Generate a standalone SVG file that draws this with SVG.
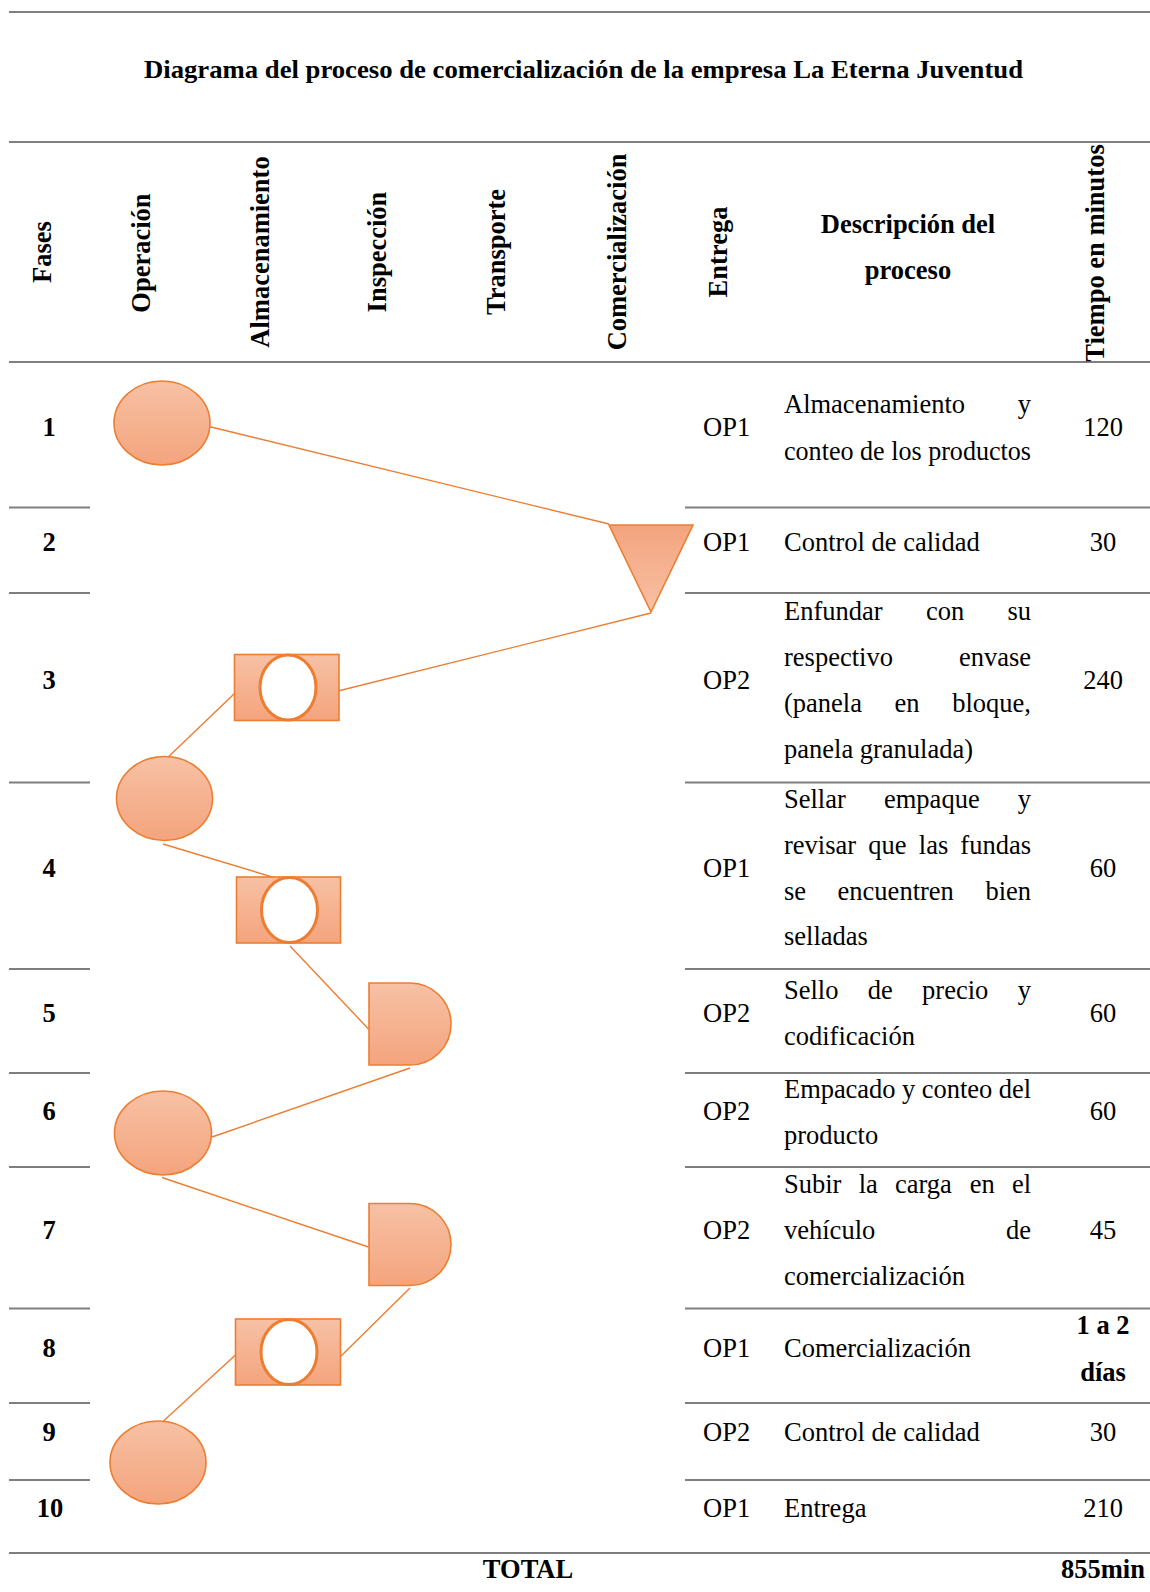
<svg xmlns="http://www.w3.org/2000/svg" width="1150" height="1592" viewBox="0 0 1150 1592">
  <style>
    .rule { stroke: #7f7f7f; stroke-width: 2.2; fill: none; }
    .title { font-family: "Liberation Serif", "Times New Roman", serif; font-weight: bold; font-size: 26px; fill: #000; }
    .hdr { font-family: "Liberation Serif", "Times New Roman", serif; font-weight: bold; font-size: 26.5px; fill: #000; text-anchor: middle; }
    .num { font-family: "Liberation Serif", "Times New Roman", serif; font-weight: bold; font-size: 26.5px; fill: #000; text-anchor: middle; }
    .txt { font-family: "Liberation Serif", "Times New Roman", serif; font-size: 26.5px; fill: #000; }
    .end { text-anchor: end; }
    .mid { text-anchor: middle; }
    .shape { fill: url(#peach); stroke: #ed7d31; stroke-width: 1.6; }
    .tri { fill: url(#peachUp); stroke: #ed7d31; stroke-width: 1.6; }
    .hole { fill: #fff; stroke: #ed7d31; stroke-width: 3; }
    .link { stroke: #ed7d31; stroke-width: 1.4; fill: none; }
  </style>
  <defs>
    <linearGradient id="peach" x1="0" y1="0" x2="0" y2="1">
      <stop offset="0" stop-color="#f7c1a5"/>
      <stop offset="1" stop-color="#f4a47d"/>
    </linearGradient>
    <linearGradient id="peachUp" x1="0" y1="1" x2="0" y2="0">
      <stop offset="0" stop-color="#f7c1a5"/>
      <stop offset="1" stop-color="#f4a47d"/>
    </linearGradient>
  </defs>

  <rect width="1150" height="1592" fill="#fff"/>

  <!-- table rules -->
  <g id="rules">
    <line class="rule" x1="9" y1="12" x2="1150" y2="12"/>
    <line class="rule" x1="9" y1="142" x2="1150" y2="142"/>
    <line class="rule" x1="9" y1="362" x2="1150" y2="362"/>
    <path class="rule" d="M9 507.5H90M685 507.5H1150 M9 593H90M685 593H1150 M9 782.5H90M685 782.5H1150 M9 969H90M685 969H1150 M9 1073H90M685 1073H1150 M9 1167H90M685 1167H1150 M9 1308.5H90M685 1308.5H1150 M9 1403H90M685 1403H1150 M9 1480H90M685 1480H1150"/>
    <line class="rule" x1="9" y1="1553" x2="1150" y2="1553"/>
  </g>

  <!-- title -->
  <text class="title" x="583.5" y="78" text-anchor="middle" textLength="879" lengthAdjust="spacingAndGlyphs">Diagrama del proceso de comercialización de la empresa La Eterna Juventud</text>

  <!-- column headers -->
  <g id="headers">
    <text class="hdr" transform="translate(51 252) rotate(-90)">Fases</text>
    <text class="hdr" transform="translate(150 253) rotate(-90)">Operación</text>
    <text class="hdr" transform="translate(269 252) rotate(-90)">Almacenamiento</text>
    <text class="hdr" transform="translate(386 252) rotate(-90)">Inspección</text>
    <text class="hdr" transform="translate(505 252) rotate(-90)">Transporte</text>
    <text class="hdr" transform="translate(626 252) rotate(-90)">Comercialización</text>
    <text class="hdr" transform="translate(727 252) rotate(-90)">Entrega</text>
    <text class="hdr" transform="translate(1104 253) rotate(-90)">Tiempo en minutos</text>
    <text class="hdr" x="908" y="233">Descripción del</text>
    <text class="hdr" x="908" y="279">proceso</text>
  </g>

  <!-- phase numbers -->
  <g id="phases">
    <text class="num" x="49" y="436">1</text>
    <text class="num" x="49" y="551">2</text>
    <text class="num" x="49" y="688.5">3</text>
    <text class="num" x="49" y="877">4</text>
    <text class="num" x="49" y="1022">5</text>
    <text class="num" x="49" y="1120">6</text>
    <text class="num" x="49" y="1239">7</text>
    <text class="num" x="49" y="1357">8</text>
    <text class="num" x="49" y="1441">9</text>
    <text class="num" x="50" y="1517">10</text>
  </g>

  <!-- delivery codes -->
  <g id="entrega">
    <text class="txt" x="703" y="436">OP1</text>
    <text class="txt" x="703" y="551">OP1</text>
    <text class="txt" x="703" y="688.5">OP2</text>
    <text class="txt" x="703" y="877">OP1</text>
    <text class="txt" x="703" y="1022">OP2</text>
    <text class="txt" x="703" y="1120">OP2</text>
    <text class="txt" x="703" y="1239">OP2</text>
    <text class="txt" x="703" y="1357">OP1</text>
    <text class="txt" x="703" y="1441">OP2</text>
    <text class="txt" x="703" y="1517">OP1</text>
  </g>

  <!-- process descriptions (justified between x=784 and x=1031) -->
  <g id="descripcion">
    <text class="txt" x="784" y="413">Almacenamiento</text>
    <text class="txt end" x="1031" y="413">y</text>
    <text class="txt" x="784" y="460" textLength="247" lengthAdjust="spacingAndGlyphs">conteo de los productos</text>

    <text class="txt" x="784" y="551">Control de calidad</text>

    <text class="txt" x="784" y="620">Enfundar</text>
    <text class="txt" x="926" y="620">con</text>
    <text class="txt end" x="1031" y="620">su</text>
    <text class="txt" x="784" y="666">respectivo</text>
    <text class="txt end" x="1031" y="666">envase</text>
    <text class="txt" x="784" y="712">(panela</text>
    <text class="txt" x="894.6" y="712">en</text>
    <text class="txt end" x="1031" y="712">bloque,</text>
    <text class="txt" x="784" y="758">panela granulada)</text>

    <text class="txt" x="784" y="808">Sellar</text>
    <text class="txt" x="884" y="808">empaque</text>
    <text class="txt end" x="1031" y="808">y</text>
    <text class="txt" x="784" y="853.5">revisar</text>
    <text class="txt" x="868.3" y="853.5">que</text>
    <text class="txt" x="918.8" y="853.5">las</text>
    <text class="txt end" x="1031" y="853.5">fundas</text>
    <text class="txt" x="784" y="899.5">se</text>
    <text class="txt" x="837.6" y="899.5">encuentren</text>
    <text class="txt end" x="1031" y="899.5">bien</text>
    <text class="txt" x="784" y="945">selladas</text>

    <text class="txt" x="784" y="998.5">Sello</text>
    <text class="txt" x="867.8" y="998.5">de</text>
    <text class="txt" x="922.1" y="998.5">precio</text>
    <text class="txt end" x="1031" y="998.5">y</text>
    <text class="txt" x="784" y="1044.5">codificación</text>

    <text class="txt" x="784" y="1098" textLength="247" lengthAdjust="spacing">Empacado y conteo del</text>
    <text class="txt" x="784" y="1144">producto</text>

    <text class="txt" x="784" y="1192.5">Subir</text>
    <text class="txt" x="858.7" y="1192.5">la</text>
    <text class="txt" x="895" y="1192.5">carga</text>
    <text class="txt" x="969.7" y="1192.5">en</text>
    <text class="txt end" x="1031" y="1192.5">el</text>
    <text class="txt" x="784" y="1239">vehículo</text>
    <text class="txt end" x="1031" y="1239">de</text>
    <text class="txt" x="784" y="1285">comercialización</text>

    <text class="txt" x="784" y="1357">Comercialización</text>
    <text class="txt" x="784" y="1441">Control de calidad</text>
    <text class="txt" x="784" y="1517">Entrega</text>
  </g>

  <!-- times -->
  <g id="tiempo">
    <text class="txt mid" x="1103" y="436">120</text>
    <text class="txt mid" x="1103" y="551">30</text>
    <text class="txt mid" x="1103" y="688.5">240</text>
    <text class="txt mid" x="1103" y="877">60</text>
    <text class="txt mid" x="1103" y="1022">60</text>
    <text class="txt mid" x="1103" y="1120">60</text>
    <text class="txt mid" x="1103" y="1239">45</text>
    <text class="num" x="1103" y="1334">1 a 2</text>
    <text class="num" x="1103" y="1381">días</text>
    <text class="txt mid" x="1103" y="1441">30</text>
    <text class="txt mid" x="1103" y="1517">210</text>
  </g>

  <!-- totals -->
  <g id="total">
    <text class="num" x="528" y="1578">TOTAL</text>
    <text class="num" x="1103" y="1578">855min</text>
  </g>

  <!-- connectors -->
  <g id="connectors">
    <line class="link" x1="207" y1="426" x2="609" y2="524"/>
    <line class="link" x1="651" y1="613" x2="338" y2="691"/>
    <line class="link" x1="235" y1="693" x2="163" y2="762"/>
    <line class="link" x1="163" y1="844" x2="289" y2="882"/>
    <line class="link" x1="290" y1="946" x2="368.5" y2="1029"/>
    <line class="link" x1="410" y1="1068" x2="212" y2="1137"/>
    <line class="link" x1="162" y1="1177.5" x2="368.5" y2="1247"/>
    <line class="link" x1="410" y1="1288" x2="340" y2="1357"/>
    <line class="link" x1="235.5" y1="1355" x2="158" y2="1426"/>
  </g>

  <!-- process symbols -->
  <g id="op1"><ellipse class="shape" cx="162" cy="423" rx="48" ry="42"/></g>
  <g id="com1"><polygon class="tri" points="609,525 693,525 651,612"/></g>
  <g id="alm1">
    <rect class="shape" x="234.5" y="654.5" width="104.5" height="66"/>
    <ellipse class="hole" cx="288" cy="687.5" rx="28" ry="32.5"/>
  </g>
  <g id="op2"><ellipse class="shape" cx="164.5" cy="798.5" rx="48" ry="42"/></g>
  <g id="alm2">
    <rect class="shape" x="236.5" y="877" width="104" height="66"/>
    <ellipse class="hole" cx="289.5" cy="910" rx="28" ry="32.5"/>
  </g>
  <g id="ins1"><path class="shape" d="M369 983H410A41 41 0 0 1 410 1065H369Z"/></g>
  <g id="op3"><ellipse class="shape" cx="163" cy="1133" rx="48.5" ry="42"/></g>
  <g id="ins2"><path class="shape" d="M369 1203.5H410A41 41 0 0 1 410 1285.5H369Z"/></g>
  <g id="alm3">
    <rect class="shape" x="235.5" y="1319" width="105" height="66"/>
    <ellipse class="hole" cx="289" cy="1352" rx="28" ry="32.5"/>
  </g>
  <g id="op4"><ellipse class="shape" cx="158" cy="1462.5" rx="48" ry="41.5"/></g>
</svg>
